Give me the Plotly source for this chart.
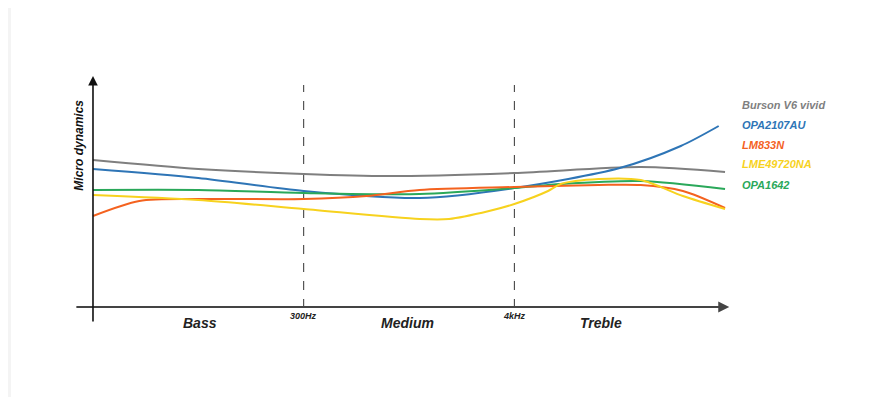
import plotly.graph_objects as go

# ---- data (x: 0=start, 1=300Hz, 2=4kHz, 3=end; y: arbitrary height above x axis) ----
series_names = ["Burson V6 vivid", "OPA2107AU", "LM833N", "LME49720NA", "OPA1642"]
series_colors = ["#7f7f7f", "#2e75b6", "#f4621f", "#f7d21e", "#2aa85a"]

x_gray = [0.0, 0.5, 1.0, 1.4, 2.0, 2.6, 3.0]
y_gray = [148, 139, 134, 132, 135, 141, 136]

x_blue = [0.0, 0.5, 1.0, 1.55, 2.0, 2.5, 2.79, 2.97]
y_blue = [139, 130, 117, 110, 120, 140, 162, 182]

x_orange = [0.0, 0.22, 0.5, 1.0, 1.3, 1.55, 2.0, 2.4, 2.6, 2.8, 3.0]
y_orange = [92, 107, 109, 109, 112, 118, 121, 123, 123, 117, 100]

x_green = [0.0, 0.5, 1.0, 1.55, 2.0, 2.22, 2.6, 3.0]
y_green = [118, 118, 115, 114, 120, 124, 127, 119]

x_yellow = [0.0, 0.5, 1.0, 1.55, 1.69, 1.88, 2.0, 2.16, 2.22, 2.4, 2.6, 2.8, 3.0]
y_yellow = [113, 108, 99, 89, 89, 97, 104, 117, 124, 129, 128, 112, 99]

xs = [x_gray, x_blue, x_orange, x_yellow, x_green]
ys = [y_gray, y_blue, y_orange, y_yellow, y_green]

region_labels = ["Bass", "Medium", "Treble"]
region_x = [0.51, 1.495, 2.41]
boundary_labels = ["300Hz", "4kHz"]
boundary_x = [1.0, 2.0]
y_title = "Micro dynamics"

FONT = "Liberation Sans"

fig = go.Figure()
order = [0, 1, 4, 2, 3]
for i in order:
    fig.add_trace(go.Scatter(x=xs[i], y=ys[i], mode="lines", name=series_names[i],
                             line=dict(color=series_colors[i], width=2, shape="spline", smoothing=0.8),
                             hoverinfo="skip", showlegend=False))

# dashed boundaries
for bx in boundary_x:
    fig.add_shape(type="line", x0=bx, x1=bx, y0=0, y1=223, xref="x", yref="y",
                  line=dict(color="#333333", width=1, dash="dash"), layer="below")

# axes with arrows
fig.add_annotation(x=3.02, y=1, ax=-0.086, ay=1, xref="x", yref="y", axref="x", ayref="y",
                   text="", showarrow=True, arrowhead=2, arrowsize=1, arrowwidth=2.2, arrowcolor="#444444")
fig.add_annotation(x=0, y=232, ax=0, ay=-15, xref="x", yref="y", axref="x", ayref="y",
                   text="", showarrow=True, arrowhead=2, arrowsize=1.2, arrowwidth=1.6, arrowcolor="#111111")

for lab, rx in zip(region_labels, region_x):
    fig.add_annotation(x=rx, y=-15, xref="x", yref="y", text="<b><i>%s</i></b>" % lab,
                       showarrow=False, font=dict(family=FONT, size=14, color="#222222"))
for lab, bx in zip(boundary_labels, boundary_x):
    fig.add_annotation(x=bx, y=-8, xref="x", yref="y", text="<b><i>%s</i></b>" % lab,
                       showarrow=False, font=dict(family=FONT, size=9, color="#222222"))

fig.add_annotation(x=-0.068, y=163, xref="x", yref="y", text="<b><i>%s</i></b>" % y_title,
                   textangle=-90, showarrow=False, font=dict(family=FONT, size=12, color="#111111"))

# legend labels as text
legend_y = [203, 183, 163, 144, 123]
for name, col, ly in zip(series_names, series_colors, legend_y):
    fig.add_annotation(x=3.07, y=ly, xref="x", yref="y", text="<b><i>%s</i></b>" % name,
                       xanchor="left", showarrow=False,
                       font=dict(family=FONT, size=11, color=col))

# left gray strip (page edge)
fig.add_shape(type="rect", xref="paper", yref="paper", x0=-0.2, x1=-0.0962, y0=-0.5, y1=1.5,
              fillcolor="#f4f4f4", line=dict(width=0), layer="below")

fig.update_layout(
    width=883, height=397,
    margin=dict(l=67, r=151, t=63, b=74),
    plot_bgcolor="white", paper_bgcolor="white",
    xaxis=dict(range=[-0.0854, 3.071], visible=False, fixedrange=True),
    yaxis=dict(range=[-23, 237], visible=False, fixedrange=True),
    showlegend=False,
)

fig.write_html("out.html")
